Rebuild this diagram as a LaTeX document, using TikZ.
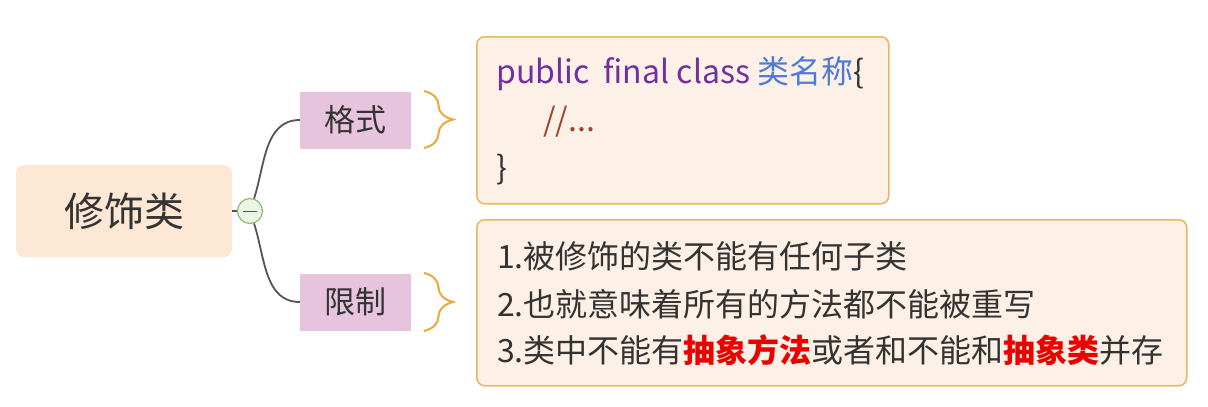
\documentclass[tikz,border=0pt]{standalone}
\usepackage{fontspec}
\setmainfont{Noto Sans CJK SC}
\usepackage{tikz}
\usetikzlibrary{positioning, decorations.pathreplacing}

\definecolor{rootfill}{RGB}{252,232,212}
\definecolor{tagfill}{RGB}{231,196,222}
\definecolor{notefill}{RGB}{253,240,230}
\definecolor{noteline}{RGB}{234,183,92}
\definecolor{bracecol}{RGB}{233,170,60}
\definecolor{linkcol}{RGB}{85,85,85}
\definecolor{textcol}{RGB}{51,51,51}
\definecolor{kwcol}{RGB}{112,48,160}
\definecolor{namecol}{RGB}{79,123,213}
\definecolor{cmtcol}{RGB}{160,70,45}
\definecolor{hotcol}{RGB}{235,0,0}
\definecolor{dotline}{RGB}{140,190,110}
\definecolor{dotfill}{RGB}{236,245,228}

\begin{document}
\begin{tikzpicture}[x=1pt, y=-1pt, text=textcol,
  root node/.style={rectangle, rounded corners=8pt, fill=rootfill,
    minimum width=216pt, minimum height=92pt, font=\fontsize{40}{40}\selectfont},
  tag node/.style={rectangle, fill=tagfill, minimum width=111pt,
    minimum height=57pt, font=\fontsize{31}{31}\selectfont},
  note box/.style={rectangle, rounded corners=8pt, draw=noteline,
    line width=1.5pt, fill=notefill, anchor=north west},
  line text/.style={anchor=base west, inner sep=0pt, font=\fontsize{32}{32}\selectfont},
  link/.style={draw=linkcol, line width=1.8pt},
  curly/.style={draw=bracecol, line width=2pt, decorate,
    decoration={brace, amplitude=29pt, aspect=0.5}}]

\useasboundingbox (0,0) rectangle (1208,407);

% main topic and toggle
\node[root node] (root) at (124,211) {修饰类};
\node[circle, draw=dotline, line width=1.2pt, fill=dotfill,
  minimum size=25pt, inner sep=0pt] (dot) at (250,211) {};
\draw[linkcol, line width=1pt] ([xshift=-7pt]dot.center) -- ([xshift=7pt]dot.center);

% sub topics
\node[tag node] (fmt) at (355.5,120) {格式};
\node[tag node] (lim) at (355.5,302) {限制};

\path[link] (root.east) -- (dot.west);
\path[link]
(dot) edge [out=72, in=180] (fmt.west)
(dot) edge [out=-72, in=180] (lim.west);

% braces
\coordinate (fmt top) at (424,91);
\coordinate (fmt bot) at (424,148);
\coordinate (lim top) at (424,273);
\coordinate (lim bot) at (424,331);
\draw[curly] (fmt top) -- (fmt bot);
\draw[curly] (lim top) -- (lim bot);

% notes
\node[note box, minimum width=412pt, minimum height=167pt] (code) at (476,36) {};
\node[line text] (c1) at (496,83) {\textcolor{kwcol}{public\ \ final class} \textcolor{namecol}{类名称}\{};
\node[line text, text=cmtcol] (c2) at (543,131) {//...};
\node[line text] (c3) at (496,179) {\}};

\node[note box, minimum width=710pt, minimum height=166pt] (rule) at (476,219) {};
\node[line text] (r1) at (497,268) {1.被修饰的类不能有任何子类};
\node[line text] (r2) at (497,316) {2.也就意味着所有的方法都不能被重写};
\node[line text] (r3) at (497,362) {3.类中不能有\textcolor{hotcol}{\bfseries 抽象方法}或者和不能和\textcolor{hotcol}{\bfseries 抽象类}并存};
\end{tikzpicture}
\end{document}
